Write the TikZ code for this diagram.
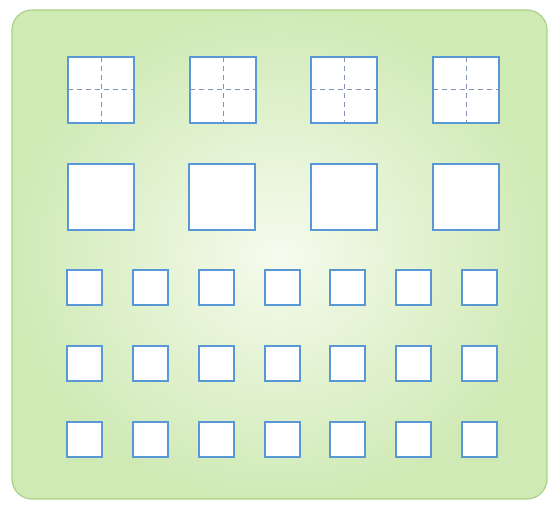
\documentclass[tikz,border=0pt]{standalone}
\usetikzlibrary{calc}
\definecolor{bggreen}{RGB}{208,234,182}
\definecolor{bgglow}{RGB}{246,251,238}
\definecolor{bgedge}{RGB}{170,210,130}
\definecolor{sqblue}{RGB}{88,152,212}
\definecolor{dashgray}{RGB}{130,150,180}
\tikzset{
  bigsq/.style={draw=sqblue, line width=2.2pt, fill=white, minimum size=66pt, inner sep=0pt, outer sep=0pt},
  smallsq/.style={draw=sqblue, line width=2pt, fill=white, minimum size=35pt, inner sep=0pt, outer sep=0pt},
  guide/.style={draw=dashgray, line width=1pt, dash pattern=on 5pt off 4pt}
}
\begin{document}
\begin{tikzpicture}[x=1pt,y=-1pt]
\useasboundingbox (0,0) rectangle (550,505);
\fill[white] (0,0) rectangle (550,505);
\shade[rounded corners=20pt, inner color=bgglow, outer color=bggreen, draw=bgedge, line width=1.2pt]
  (12,10) rectangle (547,499);
% row 1: squares with dashed cross
\foreach \i/\x in {1/101,2/223,3/344,4/466}{
  \node[bigsq] (a\i) at (\x,90) {};
  \draw[guide] (a\i.north) -- (a\i.south);
  \draw[guide] (a\i.west) -- (a\i.east);
}
% row 2: plain big squares
\foreach \i/\x in {1/101,2/222,3/344,4/466}{
  \node[bigsq] (b\i) at (\x,197) {};
}
% rows 3-5: small squares
\foreach \r/\y in {1/287.5,2/363.5,3/440}{
  \foreach \i/\x in {1/84,2/150,3/216,4/282,5/347.5,6/413.5,7/479.5}{
    \node[smallsq] (s\r\i) at (\x,\y) {};
  }
}
\end{tikzpicture}
\end{document}
